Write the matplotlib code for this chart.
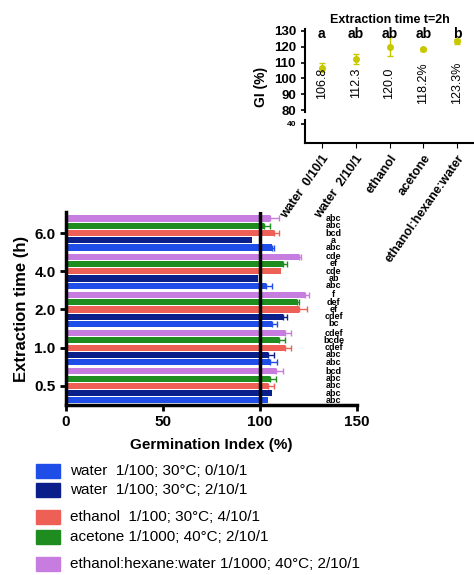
import matplotlib
matplotlib.use("Agg")
import matplotlib.pyplot as plt
import numpy as np

plt.rcParams['font.family'] = ['Liberation Sans', 'DejaVu Sans']

times = ["0.5", "1.0", "2.0", "4.0", "6.0"]
series = ["water 0/10/1", "water 2/10/1", "ethanol", "acetone", "ethanol:hexane:water"]
colors = ["#1f4de8", "#0a1f8a", "#ee6055", "#1e8c1e", "#c77ddf"]
values = [[104, 106, 104, 105, 108],
          [105, 104, 113, 110, 113],
          [106, 112, 120, 119, 123],
          [103, 99, 111, 112, 120],
          [106, 96, 107, 102, 105]]
errors = [[0, 0, 3, 3, 4],
          [4, 3, 3, 3, 3],
          [3, 2, 4, 1, 2],
          [3, 0, 0, 2, 1],
          [1, 0, 3, 3, 5]]
letters = [["abc", "abc", "abc", "abc", "bcd"],
           ["abc", "abc", "cdef", "bcde", "cdef"],
           ["bc", "cdef", "ef", "def", "f"],
           ["abc", "ab", "cde", "ef", "cde"],
           ["abc", "a", "bcd", "abc", "abc"]]
legend_labels = ["water  1/100; 30°C; 0/10/1", "water  1/100; 30°C; 2/10/1",
                 "ethanol  1/100; 30°C; 4/10/1", "acetone 1/1000; 40°C; 2/10/1",
                 "ethanol:hexane:water 1/1000; 40°C; 2/10/1"]

inset_cats = ["water  0/10/1", "water  2/10/1", "ethanol", "acetone", "ethanol:hexane:water"]
inset_vals = [106.8, 112.3, 120.0, 118.2, 123.3]
inset_err = [3, 3, 6, 1, 1.5]
inset_txt = ["106.8", "112.3", "120.0", "118.2%", "123.3%"]
inset_letters = ["a", "ab", "ab", "ab", "b"]

W, H = 474, 575
fig = plt.figure(figsize=(W/100, H/100), dpi=100)

def ax_px(l, t, r, b):
    return fig.add_axes([l/W, 1-b/H, (r-l)/W, (b-t)/H])

ax = ax_px(66, 212, 357, 405)
bh = 0.16
for g in range(5):
    for s in range(5):
        y = g + (s-2)*0.19
        v = values[g][s]
        ax.barh(y, v, height=bh, color=colors[s], zorder=2)
        if errors[g][s] > 0:
            ax.errorbar(v, y, xerr=[[0], [errors[g][s]]], color=colors[s], capsize=2, lw=1, zorder=2)
        ax.text(138, y, letters[g][s], fontsize=6.5, fontweight='bold', ha='center', va='center',
                clip_on=False, linespacing=0.8)
ax.axvline(100, color='black', lw=2.5, zorder=3)
ax.set_xlim(0, 150)
ax.set_ylim(-0.5, 4.55)
ax.set_yticks(range(5))
ax.set_yticklabels(times, fontsize=11, fontweight='bold')
ax.set_xticks([0, 50, 100, 150])
ax.set_xticklabels(["0", "50", "100", "150"], fontsize=11, fontweight='bold')
ax.set_xlabel("Germination Index (%)", fontsize=11, fontweight='bold', labelpad=6)
ax.set_ylabel("Extraction time (h)", fontsize=12, fontweight='bold')
for sp in ['top', 'right']:
    ax.spines[sp].set_visible(False)
for sp in ['left', 'bottom']:
    ax.spines[sp].set_linewidth(2.5)
ax.tick_params(width=2, length=4)

# inset (broken axis)
ax1 = ax_px(305, 29, 474, 112)
ax2 = ax_px(305, 120, 474, 143)
x = np.arange(1, 6)
ax1.errorbar(x, inset_vals, yerr=inset_err, fmt='o', color='#c8c800', ms=4, capsize=2, lw=1)
for i in range(5):
    ax1.text(x[i], 97, inset_txt[i], rotation=90, ha='center', va='center', fontsize=9)
    ax1.text(x[i], 128, inset_letters[i], ha='center', va='center', fontsize=10, fontweight='bold')
ax1.set_xlim(0.5, 5.5)
ax1.set_ylim(79, 131)
ax1.set_yticks([80, 90, 100, 110, 120, 130])
ax1.tick_params(labelsize=9.5, width=1.2, length=3)
for lb in ax1.get_yticklabels():
    lb.set_fontweight('bold')
ax1.set_xticks([])
ax1.set_title("Extraction time t=2h", fontsize=9, fontweight='bold', pad=4)
ax1.set_ylabel("GI (%)", fontsize=10, fontweight='bold')
ax1.yaxis.set_label_coords(-0.22, 0.3)
for sp in ['top', 'right', 'bottom']:
    ax1.spines[sp].set_visible(False)
ax1.spines['left'].set_linewidth(1.5)
ax2.set_xlim(0.5, 5.5)
ax2.set_ylim(30, 42)
ax2.set_yticks([40])
ax2.tick_params(axis='y', labelsize=6, width=1.2, length=3)
for lb in ax2.get_yticklabels():
    lb.set_fontweight('bold')
ax2.set_xticks(x)
ax2.set_xticklabels(inset_cats, rotation=55, ha='right', rotation_mode='anchor', fontsize=9, fontweight='bold')
for sp in ['top', 'right']:
    ax2.spines[sp].set_visible(False)
ax2.spines['left'].set_linewidth(1.5)
ax2.spines['bottom'].set_linewidth(1.5)

# legend
ys = [471, 490, 517, 537, 564]
for yy, c, lab in zip(ys, colors, legend_labels):
    fig.patches.append(plt.Rectangle((36/W, 1-(yy+7)/H), 24/W, 14/H, color=c, transform=fig.transFigure))
    fig.text(70/W, 1-yy/H, lab, fontsize=11, va='center')

fig.savefig("out.png", dpi=100)
